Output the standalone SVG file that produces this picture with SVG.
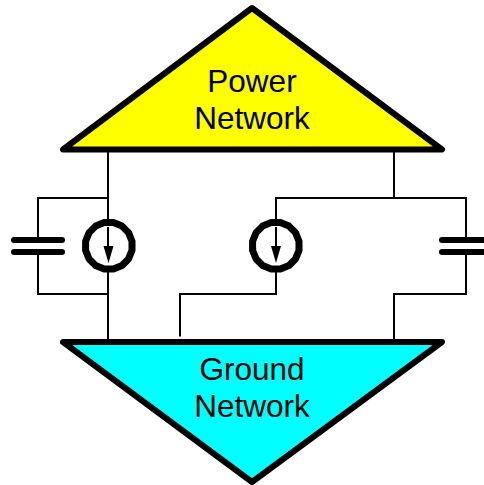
<svg xmlns="http://www.w3.org/2000/svg" width="484" height="485" viewBox="0 0 484 485">
<style>
.tri{stroke:#000;stroke-width:6;stroke-linejoin:round}
.wire{fill:none;stroke:#000;stroke-width:2}
.plate{fill:none;stroke:#000;stroke-width:6;stroke-linecap:round}
.ring{fill:#fff;stroke:#000;stroke-width:7;stroke-linejoin:round}
.lbl{font-family:"Liberation Sans",Arial,sans-serif;font-size:31.500px;fill:#000;text-anchor:middle}
</style>
<defs>
<polygon id="ring-shape" class="ring" points="4.600,-23.200 13.200,-19.700 19.700,-13.200 23.200,-4.600 23.200,4.600 19.700,13.200 13.200,19.700 4.600,23.200 -4.600,23.200 -13.200,19.700 -19.700,13.200 -23.200,4.600 -23.200,-4.600 -19.700,-13.200 -13.200,-19.700 -4.600,-23.200"/>
</defs>
<rect width="484" height="485" fill="#fff"/>
<g id="connectors">
<path class="wire" d="M108 150V342M108 198H38V240M38 252V294H108"/>
<path class="wire" d="M394 150V198M276 228V198H466V240M466 252V294H394V342"/>
<path class="wire" d="M276 264V294H180V336.500"/>
</g>
<g id="power-network">
<polygon class="tri" fill="#ff0" points="252,8 442,149.500 63,149.500"/>
<text class="lbl" x="252" y="92">Power</text>
<text class="lbl" x="252" y="129">Network</text>
</g>
<g id="ground-network">
<polygon class="tri" fill="#0ff" points="63,342 442,342 252,482"/>
<text class="lbl" x="252" y="380">Ground</text>
<text class="lbl" x="252" y="417">Network</text>
</g>
<g id="cap-left">
<path class="plate" d="M14 240H62M14 252H62"/>
</g>
<g id="source-left">
<use href="#ring-shape" transform="translate(108.800 245.800)"/>
<path class="wire" d="M108 227V247"/>
<polygon points="103.500,246 113.500,246 108.500,263"/>
</g>
<g id="source-right">
<use href="#ring-shape" transform="translate(275.800 245.800)"/>
<path class="wire" d="M276 227V247"/>
<polygon points="271,246 281,246 276,263"/>
</g>
<g id="cap-right">
<path class="plate" d="M442 240H490M442 252H490"/>
</g>
</svg>
